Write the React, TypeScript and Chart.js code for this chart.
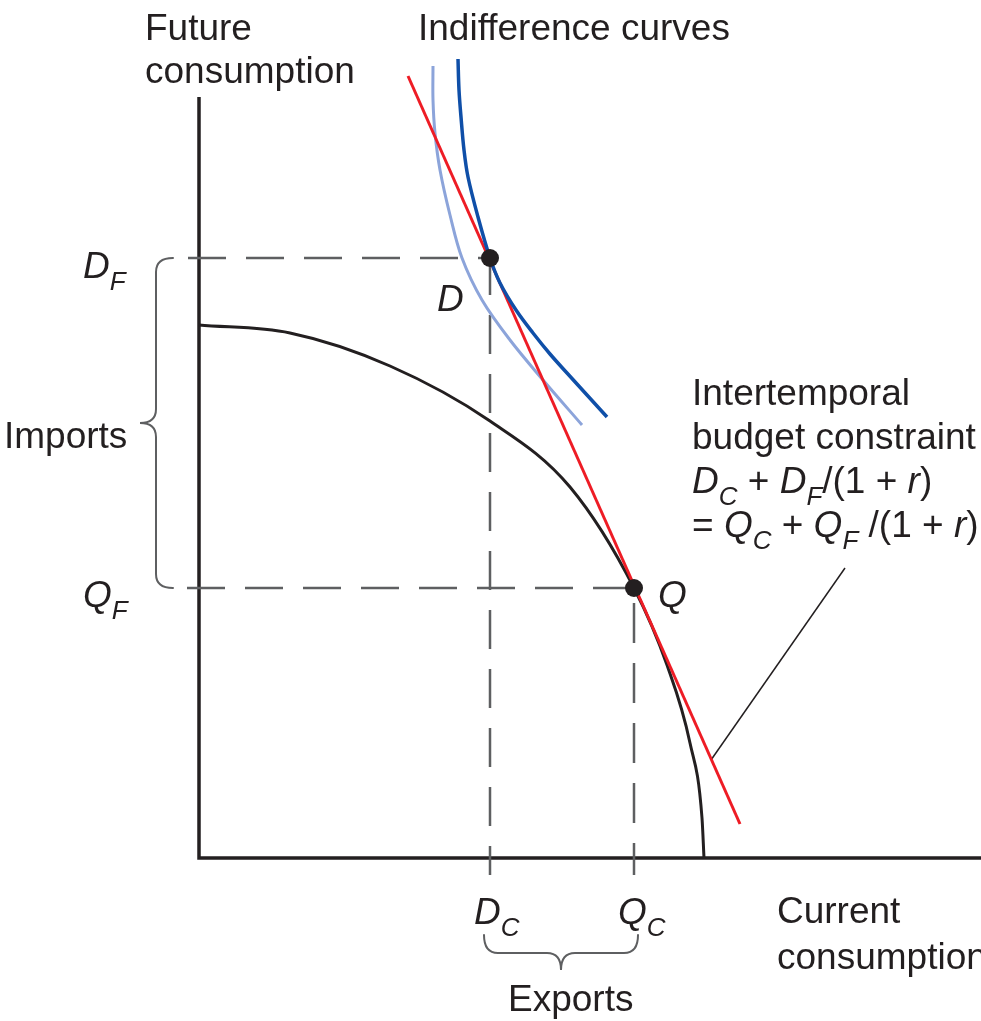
import React, { useEffect, useRef } from "react";
import { Chart, registerables } from "chart.js";

Chart.register(...registerables);

// ---- Data (economic units: current consumption on x, future consumption on y) ----
const ppfX = [0, 91, 191, 291, 371, 435, 468, 491, 503, 505];
const ppfY = [533, 525, 492, 437, 371, 270, 193, 115, 40, 0];

const icLowX = [234, 234, 236, 241, 251, 263, 283, 311, 344, 383];
const icLowY = [792, 758, 725, 688, 643, 600, 558, 518, 478, 433];

const icHighX = [259, 260, 262, 265, 269, 279, 291, 301, 317, 334, 351, 368, 388, 408];
const icHighY = [799, 768, 741, 708, 681, 641, 600, 575, 548, 525, 504, 485, 463, 441];

const budgetX = [209, 541];
const budgetY = [782, 34];

const pointerX = [646, 512];
const pointerY = [290, 98];

const consumptionD = { x: 291, y: 600 }; // D_C, D_F
const productionQ = { x: 435, y: 270 }; // Q_C, Q_F

const axisMaxX = 782;
const axisMaxY = 761;

// ---- Text ----
type Part = [string, "n" | "i" | "s"];
const yTitle = ["Future", "consumption"];
const xTitle = ["Current", "consumption"];
const curvesTitle = "Indifference curves";
const importsLabel = "Imports";
const exportsLabel = "Exports";
const pointLabels = ["D", "Q"];
const yTickLabels: Part[][] = [
  [["D", "i"], ["F", "s"]],
  [["Q", "i"], ["F", "s"]],
];
const xTickLabels: Part[][] = [
  [["D", "i"], ["C", "s"]],
  [["Q", "i"], ["C", "s"]],
];
const budgetLabel: Part[][] = [
  [["Intertemporal", "n"]],
  [["budget constraint", "n"]],
  [["D", "i"], ["C", "s"], [" + ", "n"], ["D", "i"], ["F", "s"], ["/(1 + ", "n"], ["r", "i"], [")", "n"]],
  [["= ", "n"], ["Q", "i"], ["C", "s"], [" + ", "n"], ["Q", "i"], ["F", "s"], [" /(1 + ", "n"], ["r", "i"], [")", "n"]],
];

const INK = "#231f20";
const GRAY = "#5e5f61";
const FONT = '"Liberation Sans", Arial, Helvetica, sans-serif';
const MAIN = 37;
const SUB = 26;

function drawRich(ctx: CanvasRenderingContext2D, parts: Part[], x: number, y: number) {
  let cx = x;
  for (const [t, s] of parts) {
    const size = s === "s" ? SUB : MAIN;
    ctx.font = `${s === "n" ? "" : "italic "}${size}px ${FONT}`;
    ctx.fillText(t, cx, s === "s" ? y + 12 : y);
    cx += ctx.measureText(t).width;
  }
}

const decorPlugin = {
  id: "decor",
  afterDraw(chart: any) {
    const ctx: CanvasRenderingContext2D = chart.ctx;
    const xs = chart.scales.x;
    const ys = chart.scales.y;
    const px = (v: number) => xs.getPixelForValue(v);
    const py = (v: number) => ys.getPixelForValue(v);
    ctx.save();

    // braces
    ctx.strokeStyle = GRAY;
    ctx.lineWidth = 2;
    ctx.lineCap = "round";
    // vertical (Imports) brace
    {
      const yTop = py(consumptionD.y);
      const yBot = py(productionQ.y);
      const mid = (yTop + yBot) / 2;
      const x0 = px(0) - 26;
      const xb = px(0) - 43;
      const xt = px(0) - 59;
      const r = 14;
      ctx.beginPath();
      ctx.moveTo(x0, yTop);
      ctx.quadraticCurveTo(xb, yTop, xb, yTop + r);
      ctx.lineTo(xb, mid - r);
      ctx.quadraticCurveTo(xb, mid, xt, mid);
      ctx.quadraticCurveTo(xb, mid, xb, mid + r);
      ctx.lineTo(xb, yBot - r);
      ctx.quadraticCurveTo(xb, yBot, x0, yBot);
      ctx.stroke();
    }
    // horizontal (Exports) brace
    {
      const xL = px(consumptionD.x) - 6;
      const xR = px(productionQ.x) + 4;
      const mid = (xL + xR) / 2;
      const y0 = py(0) + 77;
      const yb = py(0) + 95;
      const yt = py(0) + 112;
      const r = 14;
      ctx.beginPath();
      ctx.moveTo(xL, y0);
      ctx.quadraticCurveTo(xL, yb, xL + r, yb);
      ctx.lineTo(mid - r, yb);
      ctx.quadraticCurveTo(mid, yb, mid, yt);
      ctx.quadraticCurveTo(mid, yb, mid + r, yb);
      ctx.lineTo(xR - r, yb);
      ctx.quadraticCurveTo(xR, yb, xR, y0);
      ctx.stroke();
    }

    // text
    ctx.fillStyle = INK;
    ctx.textBaseline = "alphabetic";
    ctx.textAlign = "left";
    ctx.font = `${MAIN}px ${FONT}`;
    ctx.fillText(yTitle[0], 145, 40);
    ctx.fillText(yTitle[1], 145, 83);
    ctx.fillText(curvesTitle, 418, 40);
    ctx.fillText(importsLabel, 4, 448);
    ctx.fillText(xTitle[0], 777, 923);
    ctx.fillText(xTitle[1], 777, 969);
    ctx.fillText(exportsLabel, 508, 1011);

    drawRich(ctx, yTickLabels[0], 83, py(consumptionD.y) + 20);
    drawRich(ctx, yTickLabels[1], 83, py(productionQ.y) + 19);
    drawRich(ctx, xTickLabels[0], px(consumptionD.x) - 16, py(0) + 66);
    drawRich(ctx, xTickLabels[1], px(productionQ.x) - 16, py(0) + 66);

    ctx.font = `italic ${MAIN}px ${FONT}`;
    ctx.fillText(pointLabels[0], px(consumptionD.x) - 53, py(consumptionD.y) + 53);
    ctx.fillText(pointLabels[1], px(productionQ.x) + 24, py(productionQ.y) + 19);

    budgetLabel.forEach((line, i) => drawRich(ctx, line, 692, 405 + i * 44));

    ctx.restore();
  },
};

const zip = (xs: number[], ys: number[]) => xs.map((x, i) => ({ x, y: ys[i] }));

export default function App() {
  const ref = useRef<HTMLCanvasElement>(null);

  useEffect(() => {
    if (!ref.current) return;
    const line = (data: any[], color: string, width: number, order: number, extra: any = {}) => ({
      data,
      showLine: true,
      borderColor: color,
      borderWidth: width,
      pointRadius: 0,
      pointHoverRadius: 0,
      fill: false,
      order,
      ...extra,
    });
    const chart = new Chart(ref.current, {
      type: "scatter",
      data: {
        datasets: [
          // points D and Q
          {
            data: [consumptionD, productionQ],
            pointRadius: 9,
            pointBackgroundColor: INK,
            pointBorderColor: INK,
            pointBorderWidth: 0,
            showLine: false,
            order: 0,
          } as any,
          line(zip(icHighX, icHighY), "#0f4fa8", 3.5, 1, { tension: 0.35, borderCapStyle: "butt" }),
          line(zip(budgetX, budgetY), "#ee1c25", 3, 2),
          line(zip(icLowX, icLowY), "#8ca4da", 3, 3, { tension: 0.35 }),
          line(zip(ppfX, ppfY), INK, 3, 4, { cubicInterpolationMode: "monotone" }),
          line(zip(pointerX, pointerY), INK, 1.5, 5),
          // dashed guides
          line([{ x: consumptionD.x, y: consumptionD.y }, { x: -19, y: consumptionD.y }], GRAY, 2.5, 6, {
            borderDash: [38, 20],
            borderDashOffset: 26,
          }),
          line([{ x: consumptionD.x, y: consumptionD.y }, { x: consumptionD.x, y: -17 }], GRAY, 2.5, 6, {
            borderDash: [39, 20],
            borderDashOffset: 2,
          }),
          line([{ x: productionQ.x, y: productionQ.y }, { x: -19, y: productionQ.y }], GRAY, 2.5, 6, {
            borderDash: [38, 20],
            borderDashOffset: 55,
          }),
          line([{ x: productionQ.x, y: productionQ.y }, { x: productionQ.x, y: -17 }], GRAY, 2.5, 6, {
            borderDash: [40, 20],
            borderDashOffset: 45,
          }),
          // axes
          line([{ x: 0, y: axisMaxY }, { x: 0, y: 0 }, { x: axisMaxX, y: 0 }], INK, 3.5, 7, {
            borderJoinStyle: "miter",
          }),
        ],
      },
      options: {
        animation: false,
        responsive: false,
        devicePixelRatio: 1,
        layout: { padding: 0, autoPadding: false },
        events: [],
        scales: {
          x: { type: "linear", min: -199, max: 782, display: false },
          y: { type: "linear", min: -163, max: 858, display: false },
        },
        plugins: {
          legend: { display: false },
          tooltip: { enabled: false },
        },
      },
      plugins: [decorPlugin],
    });
    return () => chart.destroy();
  }, []);

  return (
    <div style={{ position: "absolute", left: 0, top: 0, width: 981, height: 1021, background: "#fff" }}>
      <canvas ref={ref} width={981} height={1021} style={{ width: 981, height: 1021, display: "block" }} />
    </div>
  );
}
